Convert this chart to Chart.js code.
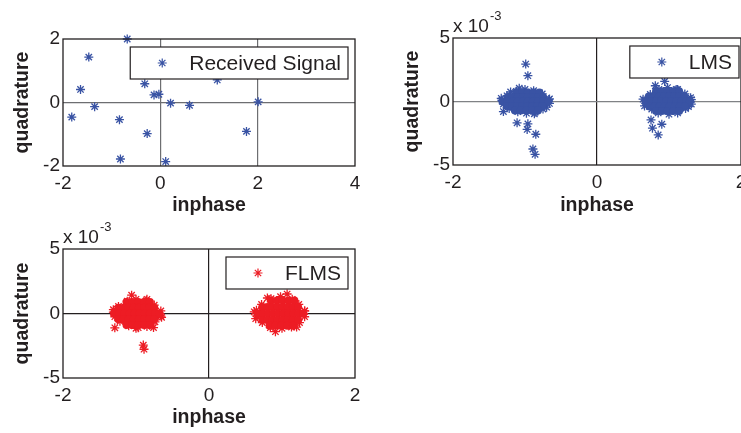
<!DOCTYPE html>
<html>
<head>
<meta charset="utf-8">
<script src="https://cdn.jsdelivr.net/npm/chart.js@4.4.1/dist/chart.umd.min.js"></script>
<style>
  html, body { margin: 0; padding: 0; background: #fff; overflow: hidden; width: 741px; height: 433px; }
  canvas { position: absolute; }
</style>
</head>
<body>
<canvas id="rx" width="370" height="220" style="left:0;top:0"></canvas>
<canvas id="lms" width="370" height="220" style="left:390px;top:0"></canvas>
<canvas id="flms" width="370" height="223" style="left:0;top:210px"></canvas>
<script>
// received signal (inphase / quadrature)
var rxI = [-0.68, -1.47, -1.64, -1.35, -1.82, -0.84, -0.82, -0.32, -0.13, -0.03, 0.21, 0.60, -0.27, 0.11, 1.17, 1.77, 2.01]
var rxQ = [2.00, 1.43, 0.41, -0.13, -0.46, -0.54, -1.78, 0.59, 0.24, 0.26, -0.02, -0.09, -0.98, -1.86, 0.71, -0.91, 0.02]

// LMS output, quadrature in units of 1e-3; single stars
var lmsI = [-0.99, -0.96, -1.08, -1.30, -1.11, -0.96, -0.97, -0.85, -0.89, -0.86, -0.87, -1.33, -0.66, -0.70, -1.20,
  0.94, 0.81, 0.64, 0.75, 0.77, 0.90, 0.85, 0.66, 1.30, 1.27, 1.10]
var lmsQ = [2.95, 2.03, 1.05, -0.79, -1.68, -1.76, -2.20, -2.58, -3.74, -4.16, -0.97, 0.25, 0.20, -0.45, 0.75,
  1.58, 1.24, 0.18, -1.45, -2.10, -1.79, -2.63, -0.35, 0.30, -0.40, 0.95]
// stars along the rim of the LMS clusters
var lmsEdge = [
  [-1.32, 0.1], [-1.30, -0.2], [-1.25, 0.45], [-1.22, -0.55], [-1.12, 0.8], [-1.10, -0.8], [-1.00, 0.95],
  [-0.98, -0.92], [-0.88, 0.85], [-0.86, -0.85], [-0.76, 0.6], [-0.75, -0.6], [-0.67, 0.15], [-0.66, -0.15],
  [0.67, 0.1], [0.69, -0.3], [0.74, 0.55], [0.76, -0.6], [0.86, 0.95], [0.85, -0.9], [0.98, 1.1],
  [1.00, -1.0], [1.12, 0.95], [1.12, -0.9], [1.22, 0.6], [1.23, -0.55], [1.31, 0.15], [1.31, -0.2]
]
// LMS dense clusters: [quadrature, [inphase...]] per row
var lmsCoreRows = [
  [0.7, [-1.12, -1.04, -0.96, -0.88, -0.80]],
  [0.35, [-1.24, -1.17, -1.10, -1.03, -0.96, -0.89, -0.82, -0.75]],
  [0, [-1.31, -1.24, -1.17, -1.10, -1.03, -0.96, -0.89, -0.82, -0.75, -0.68]],
  [-0.35, [-1.25, -1.18, -1.11, -1.04, -0.97, -0.90, -0.83, -0.76]],
  [-0.7, [-1.14, -1.06, -0.98, -0.90, -0.82]],
  [0.8, [0.82, 0.90, 0.98, 1.06, 1.14]],
  [0.4, [0.72, 0.79, 0.86, 0.93, 1.00, 1.07, 1.14, 1.21]],
  [0, [0.68, 0.75, 0.82, 0.89, 0.96, 1.03, 1.10, 1.17, 1.24, 1.29]],
  [-0.4, [0.73, 0.80, 0.87, 0.94, 1.01, 1.08, 1.15, 1.22]],
  [-0.75, [0.82, 0.90, 0.98, 1.06, 1.14]]
]

// FLMS output, quadrature in units of 1e-3; single stars
var flmsI = [-1.06, -1.29, -0.90, -0.89, -0.76, -1.31, -0.65, -1.00, -0.85, 1.07, 0.91, 0.62, 0.64, 1.31, 1.20, 0.80]
var flmsQ = [1.42, -1.11, -2.45, -2.77, -1.09, 0.30, -0.30, -1.15, 1.10, 1.51, -1.41, 0.13, -0.40, 0.20, -1.05, 1.20]
var flmsEdge = [
  [-1.31, 0.1], [-1.29, -0.25], [-1.24, 0.55], [-1.22, -0.6], [-1.12, 0.95], [-1.10, -0.95], [-1.00, 1.1],
  [-0.97, -1.1], [-0.86, 1.0], [-0.85, -1.0], [-0.75, 0.65], [-0.74, -0.65], [-0.66, 0.2], [-0.66, -0.2],
  [0.65, 0.25], [0.66, -0.2], [0.72, 0.7], [0.73, -0.7], [0.85, 1.15], [0.84, -1.1], [0.98, 1.3],
  [1.00, -1.15], [1.14, 1.1], [1.13, -1.05], [1.23, 0.7], [1.24, -0.7], [1.31, 0.2], [1.31, -0.25]
]
var flmsCoreRows = [
  [0.9, [-1.13, -1.05, -0.97, -0.89, -0.81]],
  [0.45, [-1.24, -1.17, -1.10, -1.03, -0.96, -0.89, -0.82, -0.75]],
  [0, [-1.30, -1.23, -1.16, -1.09, -1.02, -0.95, -0.88, -0.81, -0.74, -0.68]],
  [-0.45, [-1.24, -1.17, -1.10, -1.03, -0.96, -0.89, -0.82, -0.75]],
  [-0.9, [-1.13, -1.05, -0.97, -0.89, -0.81]],
  [1.0, [0.85, 0.93, 1.01, 1.09, 1.17]],
  [0.5, [0.73, 0.80, 0.87, 0.94, 1.01, 1.08, 1.15, 1.22]],
  [0, [0.67, 0.74, 0.81, 0.88, 0.95, 1.02, 1.09, 1.16, 1.23, 1.29]],
  [-0.5, [0.73, 0.80, 0.87, 0.94, 1.01, 1.08, 1.15, 1.22]],
  [-0.95, [0.83, 0.91, 0.99, 1.07, 1.15]]
]

var rxXTicks = [-2, 0, 2, 4]
var rxYTicks = [-2, 0, 2]
var eqXTicks = [-2, 0, 2]
var eqYTicks = [-5, 0, 5]

var BLUE = '#3953a4'
var RED = '#ed1c24'
var INK = '#231f20'
var FONT = '"Liberation Sans", Arial, sans-serif'

function pairs(xs, ys) {
  return xs.map(function (x, i) { return { x: x, y: ys[i] } })
}
function pointList(list) {
  return list.map(function (p) { return { x: p[0], y: p[1] } })
}
function rowPoints(rows) {
  var out = []
  rows.forEach(function (r) {
    r[1].forEach(function (x) { out.push({ x: x, y: r[0] }) })
  })
  return out
}
function tickList(list) {
  return function (s) { s.ticks = list.map(function (v) { return { value: v } }) }
}

// box around plot area
var frame = {
  id: 'frame',
  afterDatasetsDraw: function (chart) {
    var a = chart.chartArea, ctx = chart.ctx
    ctx.save()
    ctx.strokeStyle = INK
    ctx.lineWidth = 1.3
    ctx.strokeRect(a.left, a.top, a.right - a.left, a.bottom - a.top)
    ctx.restore()
  }
}

// matlab style legend box inside the axes
var boxLegend = {
  id: 'boxLegend',
  afterDatasetsDraw: function (chart, args, opts) {
    var ctx = chart.ctx, a = chart.chartArea
    ctx.save()
    ctx.font = '21px ' + FONT
    var tw = ctx.measureText(opts.text).width
    var right = a.right - opts.inset, top = a.top + 8
    var left = right - tw - 66
    ctx.fillStyle = '#fff'
    ctx.fillRect(left, top, right - left, 32)
    ctx.strokeStyle = INK
    ctx.lineWidth = 1.2
    ctx.strokeRect(left, top, right - left, 32)
    ctx.strokeStyle = opts.color
    ctx.fillStyle = opts.color
    Chart.helpers.drawPoint(ctx, { pointStyle: 'star', radius: 4.5, borderWidth: 1.2 }, left + 32, top + 16)
    ctx.fillStyle = INK
    ctx.textBaseline = 'middle'
    ctx.textAlign = 'left'
    ctx.fillText(opts.text, left + 59, top + 17)
    ctx.restore()
  }
}

// "x 10^-3" above the y axis
var expLabel = {
  id: 'expLabel',
  afterDraw: function (chart, args, opts) {
    if (!opts.show) return
    var ctx = chart.ctx, a = chart.chartArea
    ctx.save()
    ctx.fillStyle = INK
    ctx.textBaseline = 'alphabetic'
    ctx.textAlign = 'left'
    ctx.font = '19px ' + FONT
    ctx.fillText('x 10', a.left, a.top - 6)
    var w = ctx.measureText('x 10').width
    ctx.font = '13px ' + FONT
    ctx.fillText('-3', a.left + w + 1, a.top - 18)
    ctx.restore()
  }
}

function crossColor(values, color) {
  return function (c) {
    return c.tick && values.indexOf(c.tick.value) >= 0 ? color : 'rgba(0,0,0,0)'
  }
}

function scatterChart(id, o) {
  return new Chart(document.getElementById(id), {
    type: 'scatter',
    data: { datasets: o.datasets },
    options: {
      responsive: false,
      animation: false,
      events: [],
      layout: { padding: { left: 0, top: o.top, right: o.right, bottom: 0 } },
      plugins: {
        legend: { display: false },
        tooltip: { enabled: false },
        boxLegend: { text: o.label, color: o.color, inset: o.inset },
        expLabel: { show: o.exp }
      },
      scales: {
        x: {
          min: o.xTicks[0],
          max: o.xTicks[o.xTicks.length - 1],
          afterBuildTicks: tickList(o.xTicks),
          afterFit: function (s) { s.height = o.xh },
          grid: { color: crossColor(o.xCross, o.xCrossColor), lineWidth: 1.2, drawTicks: false },
          border: { display: false },
          ticks: { color: INK, font: { family: FONT, size: 19 }, padding: 6, maxRotation: 0 },
          title: { display: true, text: 'inphase', color: INK, font: { family: FONT, size: 19.5, weight: 'bold' }, padding: { top: 0, bottom: o.xtp } }
        },
        y: {
          min: o.yTicks[0],
          max: o.yTicks[o.yTicks.length - 1],
          afterBuildTicks: tickList(o.yTicks),
          afterFit: function (s) { s.width = 63 },
          grid: { color: crossColor([0], o.yCrossColor), lineWidth: 1.2, drawTicks: false },
          border: { display: false },
          ticks: { color: INK, font: { family: FONT, size: 19 }, padding: 3 },
          title: { display: true, text: 'quadrature', color: INK, font: { family: FONT, size: 19.5, weight: 'bold' }, padding: { top: 11, bottom: 0 } }
        }
      }
    },
    plugins: [frame, boxLegend, expLabel]
  })
}

function starSet(data, color) {
  return { data: data, pointStyle: 'star', pointRadius: 4.5, borderWidth: 1.3, borderColor: color, backgroundColor: color, clip: false }
}
function coreSet(data, color) {
  return { data: data, pointStyle: 'circle', pointRadius: 4, borderWidth: 0, backgroundColor: color, clip: false }
}

scatterChart('rx', {
  datasets: [starSet(pairs(rxI, rxQ), BLUE)],
  label: 'Received Signal', color: BLUE, inset: 7, exp: false,
  xTicks: rxXTicks, yTicks: rxYTicks, xCross: [0, 2], xCrossColor: '#6d6e71', yCrossColor: '#6d6e71',
  top: 39, right: 15, xh: 54, xtp: 3
})

scatterChart('lms', {
  datasets: [coreSet(rowPoints(lmsCoreRows), BLUE), starSet(pointList(lmsEdge), BLUE), starSet(pairs(lmsI, lmsQ), BLUE)],
  label: 'LMS', color: BLUE, inset: 2, exp: true,
  xTicks: eqXTicks, yTicks: eqYTicks, xCross: [0], xCrossColor: INK, yCrossColor: '#808285',
  top: 38, right: 19, xh: 55, xtp: 2.5
})

scatterChart('flms', {
  datasets: [coreSet(rowPoints(flmsCoreRows), RED), starSet(pointList(flmsEdge), RED), starSet(pairs(flmsI, flmsQ), RED)],
  label: 'FLMS', color: RED, inset: 7, exp: true,
  xTicks: eqXTicks, yTicks: eqYTicks, xCross: [0], xCrossColor: INK, yCrossColor: INK,
  top: 39, right: 15, xh: 55, xtp: 4
})
</script>
</body>
</html>
